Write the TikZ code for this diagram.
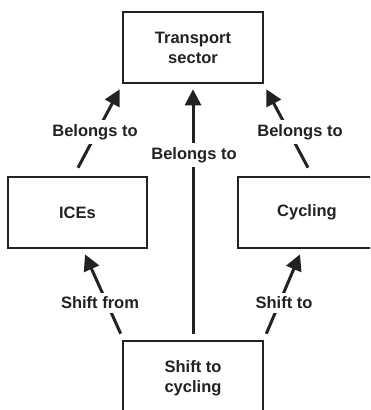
\documentclass[tikz,border=0pt]{standalone}
\usepackage{fontspec}
\setmainfont{Liberation Sans}
\usetikzlibrary{arrows.meta,calc}
\definecolor{ink}{HTML}{222222}
\tikzset{
  box/.style={draw=ink, line width=2.6pt, minimum width=139pt, minimum height=71pt,
    align=center, text=ink, font=\bfseries\fontsize{16.5}{20}\selectfont},
  arr/.style={draw=ink, line width=3pt, -{Triangle[length=16pt,width=16pt]}},
  lbl/.style={fill=white, text=ink, inner sep=4pt, font=\bfseries\fontsize{16.5}{20}\selectfont}
}
\begin{document}
\begin{tikzpicture}[x=1pt,y=1pt]
  \useasboundingbox (0,0) rectangle (370,410);
  \clip (0,0) rectangle (370,410);
  \fill[white] (0,0) rectangle (370,410);
  % boxes
  \node[box, minimum width=140pt] (ts) at (193,362.5) {Transport\\sector};
  \node[box] (ice) at (77.5,197.5) {ICEs};
  \node[box, minimum width=138pt] (cyc) at (307,197.5) {Cycling};
  \node[box, minimum width=140pt, minimum height=74pt] (sh) at (193,32) {Shift to\\cycling};
  % connectors
  \draw[arr] ($(ice.north)+(0.5,8)$) -- ($(ts.south west)+(-2,-5)$);
  \draw[arr] ($(cyc.north)+(1,8)$) -- ($(ts.south east)+(2,-5)$);
  \draw[arr] ($(sh.north)+(0,6)$) -- ($(ts.south)+(0,-5)$);
  \draw[arr] ($(sh.north west)+(-1,6)$) -- ($(ice.south)+(7.5,-5)$);
  \draw[arr] ($(sh.north east)+(2,6)$) -- ($(cyc.south)+(-7,-5)$);
  % labels on the connectors
  \node[lbl] (l1) at (95,278) {Belongs to};
  \node[lbl] (l2) at (300,278) {Belongs to};
  \node[lbl] (l3) at (194,255) {Belongs to};
  \node[lbl] (l4) at (100,107) {Shift from};
  \node[lbl] (l5) at (284,107) {Shift to};
\end{tikzpicture}
\end{document}
